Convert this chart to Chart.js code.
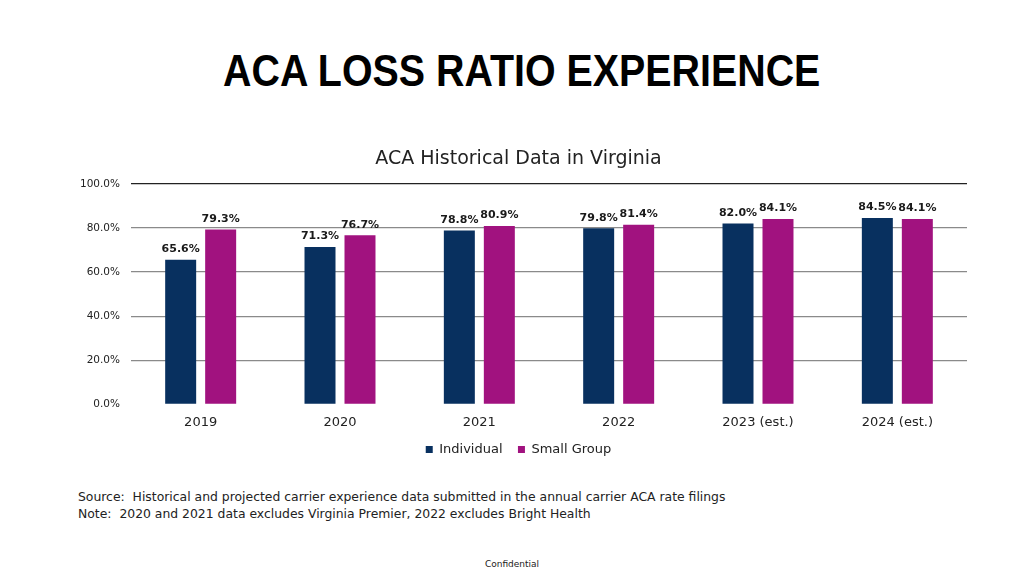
<!DOCTYPE html>
<html>
<head>
<meta charset="utf-8">
<script src="https://cdn.jsdelivr.net/npm/chart.js@4.4.1/dist/chart.umd.min.js"></script>
<style>
  html, body { margin: 0; padding: 0; background: #fff; }
  body { width: 1024px; height: 576px; position: relative; overflow: hidden; font-family: "DejaVu Sans", sans-serif; }
  #title { position: absolute; left: 10px; top: 46px; width: 1024px; text-align: center; font-family: "Liberation Sans", sans-serif; font-weight: bold; font-size: 44px; color: #000; }
  #title span { display: inline-block; transform: scaleX(0.895); }
  #chartBox { position: absolute; left: 0; top: 0; width: 1024px; height: 472px; }
  #notes { position: absolute; left: 78px; top: 488px; font-size: 12.4px; line-height: 17px; color: #222; }
  #conf { position: absolute; left: 0; width: 1024px; top: 559px; text-align: center; font-size: 9px; color: #222; }
</style>
</head>
<body>
<div id="title"><span>ACA LOSS RATIO EXPERIENCE</span></div>
<div id="chartBox"><canvas id="lossChart"></canvas></div>
<div id="notes">Source:&nbsp; Historical and projected carrier experience data submitted in the annual carrier ACA rate filings<br>Note:&nbsp; 2020 and 2021 data excludes Virginia Premier, 2022 excludes Bright Health</div>
<div id="conf">Confidential</div>
<script>
const years = ["2019", "2020", "2021", "2022", "2023 (est.)", "2024 (est.)"];
const individual = [65.6, 71.3, 78.8, 79.8, 82.0, 84.5];
const smallGroup = [79.3, 76.7, 80.9, 81.4, 84.1, 84.1];
const yTicks = [0, 20, 40, 60, 80, 100];

const fontFamily = "'DejaVu Sans', sans-serif";

// draw the value above each bar
const barLabels = {
  id: "barLabels",
  afterDatasetsDraw(chart) {
    const ctx = chart.ctx;
    ctx.save();
    ctx.font = "bold 11px " + fontFamily;
    ctx.fillStyle = "#1a1a1a";
    ctx.textAlign = "center";
    ctx.textBaseline = "bottom";
    chart.data.datasets.forEach((ds, i) => {
      chart.getDatasetMeta(i).data.forEach((bar, j) => {
        ctx.fillText(ds.data[j].toFixed(1) + "%", bar.x, bar.y - 5);
      });
    });
    ctx.restore();
  },
};

new Chart(document.getElementById("lossChart"), {
  type: "bar",
  data: {
    labels: years,
    datasets: [
      { label: "Individual", backgroundColor: "#08305f", data: individual },
      { label: "Small Group", backgroundColor: "#a1127f", data: smallGroup },
    ],
  },
  options: {
    responsive: true,
    maintainAspectRatio: false,
    animation: false,
    categoryPercentage: 0.574,
    barPercentage: 0.775,
    layout: { padding: { left: 70, right: 57, top: 0, bottom: 6 } },
    plugins: {
      title: {
        display: true,
        text: "ACA Historical Data in Virginia",
        color: "#222",
        font: { family: fontFamily, size: 19, weight: "normal" },
        padding: { top: 148, bottom: 13 },
      },
      legend: {
        position: "bottom",
        labels: {
          color: "#222",
          font: { family: fontFamily, size: 13 },
          boxWidth: 7,
          boxHeight: 7,
          padding: 3,
          // extra trailing space keeps the two entries apart
          generateLabels: (chart) =>
            Chart.defaults.plugins.legend.labels.generateLabels(chart).map((item, i) =>
              i === 0 ? { ...item, text: item.text + "   " } : item
            ),
        },
      },
      tooltip: { enabled: false },
    },
    scales: {
      x: {
        grid: { display: false, drawTicks: false },
        border: { display: false },
        ticks: { color: "#222", font: { family: fontFamily, size: 13 }, padding: 10 },
      },
      y: {
        min: 0,
        max: 100,
        afterFit: (scale) => { scale.width = 61; },
        afterBuildTicks: (scale) => { scale.ticks = yTicks.map((v) => ({ value: v })); },
        grid: {
          drawTicks: false,
          color: (c) => (c.tick.value === 100 ? "#222" : c.tick.value === 0 ? "rgba(0,0,0,0)" : "#8a8a8a"),
          lineWidth: 1.3,
        },
        border: { display: false },
        ticks: {
          color: "#222",
          padding: 11,
          font: { family: fontFamily, size: 10.5 },
          callback: (v) => v.toFixed(1) + "%",
        },
      },
    },
  },
  plugins: [barLabels],
});
</script>
</body>
</html>
